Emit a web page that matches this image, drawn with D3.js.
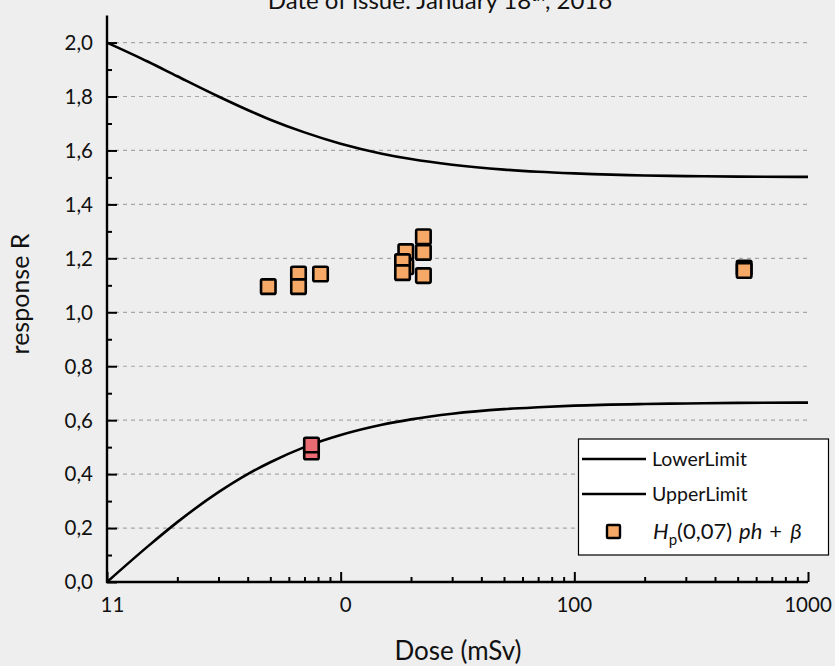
<!DOCTYPE html>
<html>
<head>
<meta charset="utf-8">
<script src="https://cdn.jsdelivr.net/npm/d3@7"></script>
<style>
  html, body { margin: 0; padding: 0; background: #eeeeee; }
  svg { display: block; font-family: Lato, "Open Sans", sans-serif; }
</style>
</head>
<body>
<svg id="chart" width="835" height="666"></svg>
<script>
// ---- data ----
const curveDose   = [1, 1.5, 2, 3, 4, 5, 7, 10, 15, 20, 30, 50, 70, 100, 200, 300, 500, 1000];
const lowerLimit  = [0, 0.133, 0.222, 0.333, 0.400, 0.444, 0.500, 0.545, 0.583, 0.603, 0.624, 0.641, 0.648, 0.654, 0.660, 0.662, 0.664, 0.665];
const upperLimit  = [2.0, 1.929, 1.875, 1.800, 1.750, 1.714, 1.667, 1.625, 1.588, 1.568, 1.547, 1.529, 1.521, 1.515, 1.507, 1.505, 1.503, 1.502];

const pointDose   = [4.9, 6.6, 6.6, 8.2, 19.0, 19.0, 18.4, 18.4, 22.6, 22.6, 22.6, 533, 533];
const pointResp   = [1.095, 1.142, 1.095, 1.142, 1.225, 1.169, 1.188, 1.147, 1.280, 1.222, 1.136, 1.164, 1.155];

const failDose    = [7.5, 7.5];
const failResp    = [0.482, 0.508];

const xTickValues = [1, 10, 100, 1000];
const xTickLabels = ["11", "0", "100", "1000"];
const yTickValues = [0, 0.2, 0.4, 0.6, 0.8, 1.0, 1.2, 1.4, 1.6, 1.8, 2.0];
const yTickLabels = ["0,0", "0,2", "0,4", "0,6", "0,8", "1,0", "1,2", "1,4", "1,6", "1,8", "2,0"];
const legendLabels = ["LowerLimit", "UpperLimit"];

(function () {
// ---- layout ----
const svg = d3.select("#chart");
const pLeft = 107, pRight = 808, pBottom = 582, pTop = 15.6;
const x = d3.scaleLog().domain([1, 1000]).range([pLeft, pRight]);
const y = d3.scaleLinear().domain([0, 2.1]).range([pBottom, pTop]);
const fontSize = 20.5;

// gridlines
svg.append("g").selectAll("line")
  .data(yTickValues.filter(v => v > 0))
  .join("line")
  .attr("x1", pLeft).attr("x2", pRight)
  .attr("y1", d => y(d)).attr("y2", d => y(d))
  .attr("stroke", "#a6a6a6").attr("stroke-width", 1.2)
  .attr("stroke-dasharray", "4,4");

// curves
const line = d3.line().x(d => x(d[0])).y(d => y(d[1])).curve(d3.curveMonotoneX);
[lowerLimit, upperLimit].forEach(arr => {
  svg.append("path")
    .datum(curveDose.map((d, i) => [d, arr[i]]))
    .attr("d", line)
    .attr("fill", "none").attr("stroke", "#000").attr("stroke-width", 2.6);
});

// y axis
const yMinor = d3.range(0.1, 2.1, 0.2);
svg.append("g").attr("transform", `translate(${pLeft},0)`)
  .call(d3.axisRight(y).tickValues(yTickValues).tickSize(10).tickFormat(""))
  .call(g => g.select(".domain").remove())
  .selectAll(".tick line").attr("stroke", "#000").attr("stroke-width", 2);
svg.append("g").attr("transform", `translate(${pLeft},0)`)
  .call(d3.axisRight(y).tickValues(yMinor).tickSize(5).tickFormat(""))
  .call(g => g.select(".domain").remove())
  .selectAll(".tick line").attr("stroke", "#000").attr("stroke-width", 2);
svg.append("g").selectAll("text")
  .data(yTickValues)
  .join("text")
  .attr("x", pLeft - 14).attr("y", d => y(d))
  .attr("dy", "0.36em")
  .attr("text-anchor", "end")
  .attr("font-size", fontSize).attr("fill", "#111")
  .text((d, i) => yTickLabels[i]);
svg.append("line").attr("x1", pLeft).attr("x2", pLeft).attr("y1", pTop).attr("y2", pBottom + 1)
  .attr("stroke", "#000").attr("stroke-width", 2.4);

// x axis
const xMinor = [];
[1, 10, 100].forEach(dec => { for (let k = 2; k <= 9; k++) xMinor.push(dec * k); });
svg.append("g").attr("transform", `translate(0,${pBottom})`)
  .call(d3.axisTop(x).tickValues(xMinor).tickSize(5).tickFormat(""))
  .call(g => g.select(".domain").remove())
  .selectAll(".tick line").attr("stroke", "#000").attr("stroke-width", 2);
svg.append("g").attr("transform", `translate(0,${pBottom})`)
  .call(d3.axisTop(x).tickValues(xTickValues).tickSize(10).tickFormat(""))
  .call(g => g.select(".domain").remove())
  .selectAll(".tick line").attr("stroke", "#000").attr("stroke-width", 2);
svg.append("line").attr("x1", pLeft - 1).attr("x2", pRight).attr("y1", pBottom).attr("y2", pBottom)
  .attr("stroke", "#000").attr("stroke-width", 2.4);
const xLabelShift = [5.5, 5, 0, 0];
svg.append("g").selectAll("text")
  .data(xTickValues)
  .join("text")
  .attr("x", (d, i) => x(d) + xLabelShift[i]).attr("y", pBottom + 30)
  .attr("text-anchor", "middle")
  .attr("font-size", fontSize).attr("fill", "#111")
  .text((d, i) => xTickLabels[i]);

// axis titles
svg.append("text").attr("x", 458).attr("y", 660)
  .attr("text-anchor", "middle").attr("font-size", 26).attr("fill", "#111")
  .text("Dose (mSv)");
svg.append("text").attr("transform", `translate(29,${294}) rotate(-90)`)
  .attr("text-anchor", "middle").attr("font-size", 25).attr("fill", "#111")
  .text("response R");

// title (clipped at top)
const title = svg.append("text").attr("x", 440).attr("y", 9)
  .attr("text-anchor", "middle").attr("font-size", 24).attr("fill", "#111");
title.append("tspan").text("Date of issue: January 18");
title.append("tspan").attr("font-size", 15).attr("dy", -8).text("th");
title.append("tspan").attr("dy", 8).text(", 2016");

// markers
const ms = 14.5;
function drawMarkers(doses, resps, fill) {
  svg.append("g").selectAll("rect")
    .data(doses.map((d, i) => [d, resps[i]]))
    .join("rect")
    .attr("x", d => x(d[0]) - ms / 2).attr("y", d => y(d[1]) - ms / 2)
    .attr("width", ms).attr("height", ms).attr("rx", 1.5)
    .attr("fill", fill).attr("stroke", "#000").attr("stroke-width", 2.6);
}
drawMarkers(pointDose, pointResp, "#f6a866");
drawMarkers(failDose, failResp, "#ea6b72");

// legend
const lg = svg.append("g");
lg.append("rect").attr("x", 578.5).attr("y", 439).attr("width", 250).attr("height", 116)
  .attr("fill", "#ffffff").attr("stroke", "#000").attr("stroke-width", 1.2);
legendLabels.forEach((lab, i) => {
  const yy = 459 + i * 35;
  lg.append("line").attr("x1", 582).attr("x2", 646).attr("y1", yy).attr("y2", yy)
    .attr("stroke", "#000").attr("stroke-width", 2.6);
  lg.append("text").attr("x", 652).attr("y", yy).attr("dy", "0.36em")
    .attr("font-size", 19.5).attr("fill", "#111").text(lab);
});
lg.append("rect").attr("x", 613.5 - 6.5).attr("y", 531.5 - 6.5).attr("width", 13).attr("height", 13)
  .attr("rx", 1).attr("fill", "#f6a866").attr("stroke", "#000").attr("stroke-width", 2.4);
const lt = lg.append("text").attr("x", 653).attr("y", 539).attr("font-size", 22).attr("fill", "#111");
lt.append("tspan").attr("font-style", "italic").text("H");
lt.append("tspan").attr("font-size", 15).attr("dy", 6).text("p");
lt.append("tspan").attr("dy", -6).text("(0,07)");
lt.append("tspan").attr("dx", 7).attr("font-style", "italic").text("ph");
lt.append("tspan").attr("dx", 7).text("+");
lt.append("tspan").attr("dx", 8).attr("font-style", "italic").text("β");
})();
</script>
</body>
</html>
